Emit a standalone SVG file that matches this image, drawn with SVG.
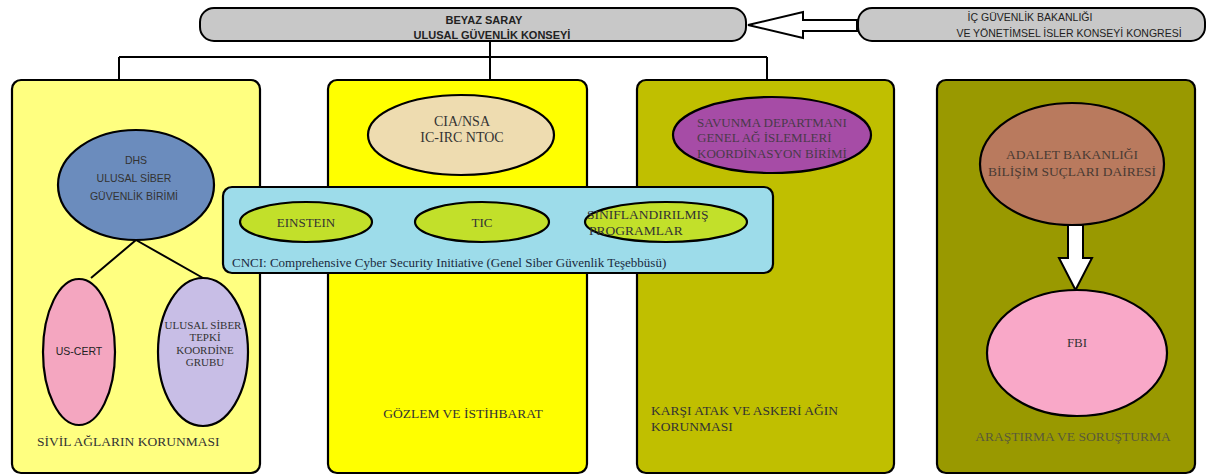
<svg xmlns="http://www.w3.org/2000/svg" width="1211" height="476" viewBox="0 0 1211 476">
<style>
.pan{stroke:#000;stroke-width:2.2}
.el{stroke:#000;stroke-width:2.2}
.ln{stroke:#000;stroke-width:2;fill:none}
.s{font-family:"Liberation Sans",Arial,sans-serif;fill:#222}
.r{font-family:"Liberation Serif","Times New Roman",serif;fill:#333}
.c{text-anchor:middle}
</style>
<rect width="1211" height="476" fill="#fff"/>
<g id="beyaz-saray">
<rect x="200" y="8" width="546" height="33" rx="14" ry="14" fill="#c8c8c8" stroke="#000" stroke-width="2"/>
<text class="s c" x="484" y="24" font-size="11" font-weight="bold">BEYAZ SARAY</text>
<text class="s c" x="492" y="39" font-size="11" font-weight="bold">ULUSAL GÜVENLİK KONSEYİ</text>
</g>
<g id="ic-guvenlik">
<rect x="858" y="8" width="347" height="33" rx="14" ry="14" fill="#c8c8c8" stroke="#000" stroke-width="2"/>
<text class="s c" x="1030" y="21" font-size="10.5">İÇ GÜVENLİK BAKANLIĞI</text>
<text class="s c" x="1069" y="37" font-size="10.5">VE  YÖNETİMSEL İSLER KONSEYİ KONGRESİ</text>
</g>
<g id="panel-sivil">
<rect class="pan" x="12" y="80" width="248" height="393" rx="9" fill="#ffff80"/>
<text class="r" x="37" y="446" font-size="13.5">SİVİL AĞLARIN KORUNMASI</text>
</g>
<g id="panel-gozlem">
<rect class="pan" x="328" y="80" width="259" height="393" rx="9" fill="#ffff00"/>
<text class="r c" x="463" y="418" font-size="13.5">GÖZLEM VE İSTİHBARAT</text>
</g>
<g id="panel-karsi">
<rect class="pan" x="637" y="80" width="257" height="393" rx="9" fill="#c0bf00"/>
<text class="r" x="651" y="415" font-size="13.5">KARŞI ATAK VE ASKERİ AĞIN</text>
<text class="r" x="651" y="431" font-size="13.5">KORUNMASI</text>
</g>
<g id="panel-arastirma">
<rect class="pan" x="937" y="80" width="258" height="393" rx="9" fill="#999900"/>
<text class="r c" x="1073" y="441" font-size="13.5" style="fill:#5a5a3a">ARAŞTIRMA VE SORUŞTURMA</text>
</g>
<g id="connectors">
<path class="ln" d="M490 41V57M119 57H767M119 57V80M490 57V80M767 57V80"/>
<path class="ln" d="M136 240L91 278M136 240L203 278"/>
<polygon points="748,25 803,12 803,20 857,20 857,31 803,31 803,38" fill="#fff" stroke="#000" stroke-width="2"/>
<polygon points="1068,225 1083,225 1083,258 1092,258 1075.5,290 1059,258 1068,258" fill="#fff" stroke="#000" stroke-width="2"/>
</g>
<g id="dhs">
<ellipse class="el" cx="136" cy="185" rx="78" ry="55" fill="#6b8cbd"/>
<text class="s c" x="136" y="164" font-size="10.5" style="fill:#333">DHS</text>
<text class="s c" x="134" y="182" font-size="10.5" style="fill:#333">ULUSAL SİBER</text>
<text class="s c" x="134" y="200" font-size="10.5" style="fill:#333">GÜVENLİK BİRİMİ</text>
</g>
<g id="us-cert">
<ellipse class="el" cx="79" cy="352" rx="36" ry="73" fill="#f4a6c0"/>
<text class="s c" x="79" y="355" font-size="10.5">US-CERT</text>
</g>
<g id="ulusal-siber-tepki">
<ellipse class="el" cx="203" cy="352" rx="45" ry="74" fill="#c8bee6"/>
<text class="r c" x="203" y="329" font-size="11">ULUSAL SİBER</text>
<text class="r c" x="205" y="341" font-size="11">TEPKİ</text>
<text class="r c" x="205" y="354" font-size="11">KOORDİNE</text>
<text class="r c" x="205" y="366" font-size="11">GRUBU</text>
</g>
<g id="cia-nsa">
<ellipse class="el" cx="461" cy="135" rx="93" ry="40" fill="#eedcb0"/>
<text class="r c" x="462" y="126" font-size="14">CIA/NSA</text>
<text class="r c" x="462" y="142" font-size="14">IC-IRC NTOC</text>
</g>
<g id="savunma">
<ellipse class="el" cx="772" cy="135" rx="99" ry="38" fill="#a64ca6"/>
<text class="r" x="697" y="127" font-size="13" style="fill:#4a3a4a">SAVUNMA DEPARTMANI</text>
<text class="r" x="697" y="142" font-size="13" style="fill:#4a3a4a">GENEL AĞ İSLEMLERİ</text>
<text class="r" x="697" y="158" font-size="13" style="fill:#4a3a4a">KOORDİNASYON BİRİMİ</text>
</g>
<g id="cnci">
<rect x="223" y="187" width="550" height="86" rx="9" fill="#9ddcea" stroke="#000" stroke-width="2.2"/>
<text class="r" x="232" y="267" font-size="13" style="fill:#1a2a40">CNCI: Comprehensive Cyber Security Initiative (Genel Siber Güvenlik Teşebbüsü)</text>
</g>
<g id="einstein">
<ellipse class="el" cx="306" cy="222" rx="66" ry="20" fill="#c2e02a"/>
<text class="r c" x="306" y="227" font-size="13">EINSTEIN</text>
</g>
<g id="tic">
<ellipse class="el" cx="482" cy="222" rx="67" ry="20" fill="#c2e02a"/>
<text class="r c" x="482" y="227" font-size="13">TIC</text>
</g>
<g id="siniflandirilmis">
<ellipse class="el" cx="666" cy="222" rx="81" ry="20" fill="#c2e02a"/>
<text class="r" x="587" y="219" font-size="13.5">SINIFLANDIRILMIŞ</text>
<text class="r" x="589" y="235" font-size="13.5">PROGRAMLAR</text>
</g>
<g id="adalet">
<ellipse class="el" cx="1072" cy="164" rx="92" ry="61" fill="#b97a5e"/>
<text class="r c" x="1072" y="159" font-size="13.5" style="fill:#4a3a33">ADALET BAKANLIĞI</text>
<text class="r c" x="1072" y="176" font-size="13.5" style="fill:#4a3a33">BİLİŞİM SUÇLARI DAİRESİ</text>
</g>
<g id="fbi">
<ellipse class="el" cx="1077" cy="353" rx="90" ry="63" fill="#f9a8c8"/>
<text class="r c" x="1077" y="347" font-size="13">FBI</text>
</g>
</svg>
